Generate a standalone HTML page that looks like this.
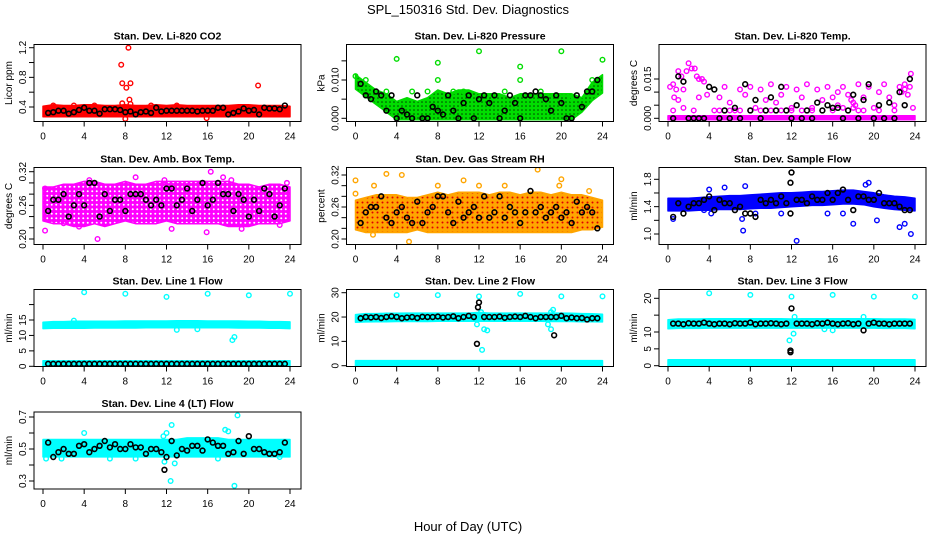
<!DOCTYPE html>
<html><head><meta charset="utf-8">
<style>
html,body{margin:0;padding:0;background:#fff;}
svg{display:block;font-family:"Liberation Sans",sans-serif;}
</style></head>
<body>
<svg id="chart" width="936" height="540" viewBox="0 0 936 540" xmlns="http://www.w3.org/2000/svg">
<defs>
<pattern id="dots-magenta" width="4.5" height="4.5" patternUnits="userSpaceOnUse"><rect width="4.5" height="4.5" fill="#ff00ff"/><circle cx="2.25" cy="2.25" r="1" fill="#ffffff"/></pattern>
<pattern id="dots-orange" width="5" height="5" patternUnits="userSpaceOnUse"><rect width="5" height="5" fill="#ffa500"/><circle cx="2.5" cy="2.5" r="1" fill="#e00000"/></pattern>
<pattern id="dots-green" width="4" height="4" patternUnits="userSpaceOnUse"><rect width="4" height="4" fill="#00dd00"/><circle cx="2" cy="2" r="0.8" fill="#004400"/></pattern>
</defs>
<text x="468" y="14" text-anchor="middle" font-size="13">SPL_150316  Std. Dev. Diagnostics</text>
<text x="468" y="531" text-anchor="middle" font-size="13">Hour of Day (UTC)</text>
</svg>
<script>
// ---------- data ----------
const hoursBand = [0,1,2,3,4,5,6,7,8,9,10,11,12,13,14,15,16,17,18,19,20,21,22,23,24];
const xTicks = [0,4,8,12,16,20,24];

const co2Lo = [0.29,0.29,0.29,0.29,0.29,0.29,0.29,0.29,0.29,0.29,0.29,0.29,0.29,0.29,0.29,0.29,0.29,0.29,0.29,0.29,0.29,0.29,0.29,0.29,0.29];
const co2Hi = [0.39,0.41,0.40,0.40,0.41,0.41,0.40,0.40,0.41,0.40,0.40,0.41,0.40,0.41,0.40,0.40,0.40,0.40,0.40,0.41,0.41,0.40,0.40,0.40,0.39];
const co2Pts = [[7.6,0.97],[8.3,1.2],[7.7,0.72],[8.5,0.72],[8.1,0.66],[8.4,0.5],[7.7,0.45],[8.5,0.44],[20.9,0.69],[8,0.24],[15.9,0.25],[1,0.42],[3,0.42],[5,0.42],[10.5,0.42],[13,0.42]];
const co2Blk = [0.32,0.33,0.35,0.35,0.31,0.33,0.36,0.39,0.35,0.35,0.31,0.37,0.37,0.37,0.36,0.33,0.34,0.30,0.33,0.34,0.32,0.39,0.34,0.35,0.35,0.35,0.35,0.35,0.35,0.34,0.35,0.35,0.35,0.39,0.39,0.30,0.32,0.34,0.38,0.35,0.36,0.30,0.39,0.38,0.38,0.37,0.42];

const presLo = [0.008,0.006,0.004,0.002,0.000,0.000,0.000,0.000,0.000,0.000,0.000,0.000,0.000,0.000,0.000,0.000,0.000,0.000,0.000,0.000,0.000,0.000,0.002,0.005,0.007];
const presHi = [0.011,0.009,0.007,0.006,0.004,0.005,0.004,0.005,0.007,0.006,0.007,0.007,0.006,0.006,0.006,0.005,0.006,0.006,0.006,0.006,0.006,0.006,0.005,0.009,0.011];
const presPts = [[4,0.0155],[8,0.0145],[8,0.010],[12,0.0175],[16,0.0135],[16,0.010],[20,0.0175],[24,0.0153],[0,0.011],[1,0.010],[3,0.007],[5.5,0.007],[7,0.007],[9.5,0.007],[10.5,0.007],[13,0.004],[14.5,0.007],[18,0.007],[21,0.005],[23,0.010]];
const presBlk = [0.009,0.006,0.005,0.007,0.006,0.002,0.006,0.000,0.002,0.001,0.000,0.006,0.000,0.000,0.003,0.002,0.001,0.006,0.002,0.000,0.004,0.006,0.000,0.005,0.006,0.004,0.006,0.000,0.002,0.006,0.004,0.000,0.006,0.006,0.007,0.006,0.005,0.002,0.006,0.004,0.000,0.000,0.006,0.003,0.007,0.007,0.010];

const tempLo = [0,0,0,0,0,0,0,0,0,0,0,0,0,0,0,0,0,0,0,0,0,0,0,0,0];
const tempHi = [0.0004,0.0004,0.0004,0.0004,0.0004,0.0004,0.0004,0.0004,0.0004,0.0004,0.0004,0.0004,0.0004,0.0004,0.0004,0.0004,0.0004,0.0004,0.0004,0.0004,0.0004,0.0004,0.0004,0.0004,0.0004];
const tempPts = [[0.2,0.012],[0.5,0.013],[0.6,0.008],[0.8,0.011],[1,0.018],[1.3,0.016],[1.5,0.011],[1.8,0.018],[2,0.021],[2.3,0.019],[2.6,0.019],[2.8,0.016],[3,0.015],[3.3,0.015],[3.5,0.014],[3.8,0.009],[0.5,0.003],[1,0.007],[1.5,0.004],[2.5,0.003],[3,0.008],[4.5,0.003],[5,0.008],[5.5,0.012],[6,0.006],[6.5,0.003],[7,0.011],[7.5,0.009],[8,0.012],[8.5,0.004],[9,0.011],[9.5,0.007],[10,0.013],[10.5,0.006],[11,0.009],[11.5,0.012],[12,0.004],[12.5,0.011],[13,0.008],[13.5,0.013],[14,0.004],[14.5,0.011],[15,0.007],[15.5,0.012],[16,0.008],[16.5,0.005],[17,0.012],[17.5,0.009],[18,0.006],[18.5,0.013],[19,0.008],[19.5,0.012],[20,0.004],[20.5,0.010],[21,0.013],[21.5,0.008],[22,0.005],[22.5,0.012],[23,0.013],[23.3,0.009],[23.6,0.017],[23.8,0.004],[17,0.004],[18,0.004],[19,0.003],[5,0.003],[6,0.003],[7,0.003],[8,0.003],[9,0.003],[10,0.003],[11,0.003],[12,0.003],[13,0.003],[14,0.003],[15,0.003],[16,0.003],[18.5,0.003],[20.5,0.003],[22,0.003],[23,0.011],[22.7,0.010],[23.5,0.012],[16.5,0.010],[17.8,0.007],[18.2,0.005]];
const tempBlk = [0,0.016,0.014,0,0,0,0,0.012,0.011,0,0.003,0,0.004,0,0.013,0.003,0.007,0,0.003,0.008,0.003,0.012,0.003,0,0.005,0,0.003,0,0.006,0.003,0.005,0.004,0.004,0,0.003,0.009,0,0.007,0.013,0,0.005,0,0.006,0,0.010,0.005,0.015];

const ambLo = [0.235,0.23,0.23,0.225,0.225,0.23,0.225,0.23,0.235,0.23,0.23,0.23,0.235,0.23,0.23,0.23,0.23,0.23,0.225,0.225,0.225,0.23,0.23,0.23,0.235];
const ambHi = [0.29,0.29,0.295,0.295,0.30,0.30,0.295,0.295,0.30,0.295,0.295,0.30,0.30,0.30,0.30,0.30,0.30,0.30,0.30,0.295,0.295,0.29,0.295,0.295,0.29];
const ambPts = [[0.2,0.29],[0.2,0.215],[5.3,0.20],[16.3,0.32],[15.9,0.212],[19.3,0.218],[12.5,0.218],[2,0.228],[3.5,0.222],[23,0.225],[4.5,0.305],[11.8,0.305],[17.5,0.31],[18.3,0.305],[23.7,0.30],[9,0.31]];
const ambBlk = [0.25,0.27,0.27,0.28,0.24,0.26,0.28,0.26,0.30,0.30,0.24,0.28,0.25,0.27,0.27,0.25,0.28,0.28,0.28,0.27,0.26,0.27,0.26,0.29,0.29,0.26,0.27,0.29,0.25,0.27,0.30,0.26,0.27,0.30,0.28,0.28,0.25,0.28,0.27,0.24,0.27,0.25,0.29,0.28,0.24,0.26,0.29];

const rhLo = [0.22,0.215,0.215,0.215,0.215,0.215,0.22,0.215,0.215,0.215,0.215,0.215,0.215,0.215,0.215,0.215,0.215,0.215,0.215,0.215,0.215,0.215,0.22,0.22,0.225];
const rhHi = [0.27,0.275,0.28,0.28,0.28,0.275,0.275,0.28,0.285,0.28,0.285,0.285,0.285,0.28,0.285,0.285,0.28,0.285,0.285,0.28,0.285,0.28,0.28,0.275,0.27];
const rhPts = [[0,0.31],[0,0.285],[3,0.322],[4.5,0.32],[17.7,0.33],[5.2,0.195],[1.7,0.208],[10.5,0.31],[20,0.312],[1.8,0.30],[12,0.30],[14.5,0.30],[19.8,0.30],[8,0.30],[22.7,0.29]];
const rhBlk = [0.23,0.25,0.26,0.26,0.28,0.24,0.23,0.25,0.26,0.24,0.23,0.27,0.23,0.25,0.26,0.28,0.28,0.25,0.23,0.27,0.24,0.25,0.26,0.24,0.28,0.24,0.25,0.28,0.24,0.26,0.25,0.23,0.25,0.29,0.25,0.26,0.24,0.25,0.26,0.24,0.25,0.23,0.27,0.25,0.26,0.25,0.22];

const flowLo = [1.36,1.36,1.36,1.37,1.37,1.38,1.38,1.38,1.39,1.40,1.40,1.41,1.42,1.43,1.44,1.44,1.45,1.46,1.46,1.45,1.42,1.40,1.38,1.37,1.36];
const flowHi = [1.50,1.50,1.50,1.51,1.52,1.53,1.54,1.54,1.55,1.56,1.57,1.58,1.58,1.59,1.60,1.60,1.61,1.62,1.62,1.60,1.58,1.55,1.53,1.52,1.50];
const flowPts = [[7.3,1.05],[12.5,0.9],[7.5,1.7],[19.5,1.75],[19.2,1.72],[23.6,1.0],[0.5,1.22],[4,1.65],[5.5,1.68],[18,1.15],[23,1.15],[22.5,1.1],[20.3,1.2],[7.2,1.22],[4.2,1.3],[3.5,1.35],[17,1.3],[15.5,1.3],[11,1.3],[8.5,1.3]];
const flowBlk = [1.25,1.45,1.3,1.4,1.45,1.45,1.5,1.55,1.35,1.5,1.45,1.45,1.35,1.4,1.3,1.3,1.25,1.5,1.45,1.5,1.45,1.55,1.45,1.9,1.5,1.5,1.45,1.55,1.5,1.5,1.6,1.5,1.6,1.65,1.5,1.35,1.55,1.55,1.5,1.5,1.6,1.45,1.45,1.45,1.4,1.35,1.35];
const flowBlkX = [[11.9,1.75],[11.9,1.3]];

const l1Lo = [12.7,12.8,12.8,12.8,12.8,12.9,12.9,12.9,12.9,12.9,13.0,13.0,13.0,13.0,13.0,13.0,13.0,13.0,13.0,12.9,12.9,12.9,12.8,12.8,12.7];
const l1Hi = [13.8,14.0,14.0,14.1,14.1,14.1,14.1,14.1,14.2,14.2,14.2,14.2,14.2,14.3,14.3,14.3,14.2,14.2,14.2,14.2,14.1,14.1,14.0,14.0,13.9];
const l1ZLo = [0.1,0.1,0.1,0.1,0.1,0.1,0.1,0.1,0.1,0.1,0.1,0.1,0.1,0.1,0.1,0.1,0.1,0.1,0.1,0.1,0.1,0.1,0.1,0.1,0.1];
const l1ZHi = [1.3,1.3,1.3,1.3,1.3,1.3,1.3,1.3,1.3,1.3,1.3,1.3,1.3,1.3,1.3,1.3,1.3,1.3,1.3,1.3,1.3,1.3,1.3,1.3,1.3];
const l1Pts = [[4,24],[8,23.5],[12,22.5],[16,23.5],[20,23],[24,23.5],[18.4,8.5],[18.6,9.5],[3,14.8],[13,11.8],[15,12]];
const l1Blk = [0.8,0.8,0.8,0.8,0.8,0.8,0.8,0.8,0.8,0.8,0.8,0.8,0.8,0.8,0.8,0.8,0.8,0.8,0.8,0.8,0.8,0.8,0.8,0.8,0.8,0.8,0.8,0.8,0.8,0.8,0.8,0.8,0.8,0.8,0.8,0.8,0.8,0.8,0.8,0.8,0.8,0.8,0.8,0.8,0.8,0.8,0.8];

const l2Lo = [18.5,18.6,18.7,18.7,18.8,18.8,18.8,18.8,18.9,18.9,18.9,18.9,18.9,18.9,18.9,18.9,18.9,18.9,18.9,18.8,18.8,18.8,18.7,18.7,18.6];
const l2Hi = [20.4,20.8,20.8,20.9,20.9,21.0,21.0,21.0,21.0,21.0,21.0,21.0,21.3,21.0,21.0,21.0,21.0,21.0,21.0,21.0,21.0,20.9,20.8,20.7,20.5];
const l2ZLo = [0.1,0.1,0.1,0.1,0.1,0.1,0.1,0.1,0.1,0.1,0.1,0.1,0.1,0.1,0.1,0.1,0.1,0.1,0.1,0.1,0.1,0.1,0.1,0.1,0.1];
const l2ZHi = [1.5,1.5,1.5,1.5,1.5,1.5,1.5,1.5,1.5,1.5,1.5,1.5,1.5,1.5,1.5,1.5,1.5,1.5,1.5,1.5,1.5,1.5,1.5,1.5,1.5];
const l2Pts = [[4,29],[8,29],[12,28.5],[16,29.5],[20,28.5],[24,28.5],[12.3,6.5],[11.8,17],[12.5,15],[12.8,14.5],[19,15],[19,22],[18.7,17],[19.2,23],[12.2,22]];
const l2Blk = [19.5,20,19.8,20,19.6,20,20.3,20,19.5,19.8,20,19.6,20.1,20,20,20.2,19.8,20,20.3,19.5,20,20.5,20,26,20,20,20,20.2,19.7,20,20.2,20,20.5,20,19.5,20,20,20,20,20.5,19.5,19.8,19.5,19.6,19,19.5,19.5];
const l2BlkX = [[11.9,24],[11.8,9],[19.3,12.5]];

const l3Lo = [11.4,11.5,11.5,11.5,11.6,11.6,11.6,11.6,11.6,11.6,11.6,11.6,11.6,11.6,11.6,11.6,11.6,11.6,11.6,11.6,11.6,11.5,11.5,11.5,11.4];
const l3Hi = [13.2,13.4,13.4,13.4,13.5,13.5,13.5,13.5,13.5,13.5,13.5,13.5,13.4,13.5,13.5,13.5,13.5,13.5,13.5,13.5,13.5,13.4,13.4,13.4,13.3];
const l3ZLo = [0.1,0.1,0.1,0.1,0.1,0.1,0.1,0.1,0.1,0.1,0.1,0.1,0.1,0.1,0.1,0.1,0.1,0.1,0.1,0.1,0.1,0.1,0.1,0.1,0.1];
const l3ZHi = [1.3,1.3,1.3,1.3,1.3,1.3,1.3,1.3,1.3,1.3,1.3,1.3,1.3,1.3,1.3,1.3,1.3,1.3,1.3,1.3,1.3,1.3,1.3,1.3,1.3];
const l3Pts = [[4,21.5],[8,21],[12,20.5],[16,21],[20,20.5],[24,20.5],[11.8,7.5],[12.2,9.5],[12.3,14.5],[19,14.5],[15.2,10.8],[16,10.5]];
const l3Blk = [12.5,12.5,12.3,12.6,12.5,12.5,12.8,12.5,12.3,12.5,12.5,12.3,12.6,12.5,12.5,12.8,12.3,12.5,12.5,12.6,12.5,12.3,12.5,17,12.5,12.5,12.5,12.3,12.6,12.5,12.8,12.5,12.3,12.5,12.6,12.3,12.5,10.5,12.5,12.8,12.5,12.5,12.3,12.5,12.5,12.5,12.5];
const l3BlkX = [[11.9,4.5],[11.9,4]];

const l4Lo = [0.46,0.46,0.46,0.46,0.46,0.46,0.46,0.46,0.46,0.46,0.46,0.46,0.46,0.46,0.46,0.46,0.46,0.46,0.46,0.46,0.46,0.46,0.46,0.46,0.46];
const l4Hi = [0.55,0.55,0.55,0.55,0.55,0.55,0.55,0.55,0.55,0.55,0.55,0.55,0.55,0.55,0.56,0.56,0.56,0.56,0.55,0.55,0.55,0.55,0.55,0.55,0.55];
const l4Pts = [[4,0.6],[12.4,0.3],[12.5,0.65],[18.6,0.27],[18.9,0.71],[17.7,0.62],[18,0.61],[12,0.6],[11.8,0.42],[12.8,0.41],[11.7,0.58],[0.3,0.44],[1.8,0.44],[6.5,0.44],[9,0.44],[17,0.44],[23,0.45]];
const l4Blk = [0.54,0.45,0.48,0.5,0.47,0.47,0.52,0.53,0.48,0.5,0.52,0.55,0.51,0.53,0.5,0.5,0.53,0.51,0.51,0.47,0.5,0.5,0.48,0.45,0.55,0.46,0.5,0.49,0.52,0.52,0.49,0.56,0.54,0.52,0.52,0.47,0.48,0.55,0.47,0.58,0.5,0.5,0.48,0.47,0.47,0.48,0.54];
const l4BlkX = [[11.8,0.37]];

// ---------- layout ----------
const NS = 'http://www.w3.org/2000/svg';
const svg = document.getElementById('chart');
const colX0 = [43, 355.5, 668];
const rowB = [121.5, 244.5, 366.5, 489];
const PW = 247;

function mk(tag, attrs, parent) {
  const e = document.createElementNS(NS, tag);
  for (const k in attrs) e.setAttribute(k, attrs[k]);
  (parent || svg).appendChild(e);
  return e;
}

const panels = [
  {id:'co2', title:'Stan. Dev. Li-820 CO2', ylab:'Licor ppm', col:0,row:0, t:[0.4,107,1.2,47.7], ticks:[0.4,0.6,0.8,1.0,1.2], labels:['0.4','0.8','1.2'], color:'#ff0000', fill:'#ff0000', bands:[[co2Lo,co2Hi]], pts:co2Pts, blk:co2Blk, blkX:[]},
  {id:'pressure', title:'Stan. Dev. Li-820 Pressure', ylab:'kPa', col:1,row:0, t:[0,118.3,0.010,80], ticks:[0,0.005,0.010,0.015], labels:['0.000','0.010'], color:'#00dd00', fill:'url(#dots-green)', bands:[[presLo,presHi]], pts:presPts, blk:presBlk, blkX:[]},
  {id:'temp', title:'Stan. Dev. Li-820 Temp.', ylab:'degrees C', col:2,row:0, t:[0,118.3,0.015,79], ticks:[0,0.005,0.010,0.015], labels:['0.000','0.015'], color:'#ff00ff', fill:'#ff00ff', bands:[[tempLo,tempHi]], pts:tempPts, blk:tempBlk, blkX:[]},
  {id:'amb-box-temp', title:'Stan. Dev. Amb. Box Temp.', ylab:'degrees C', col:0,row:1, t:[0.20,239,0.32,171.7], ticks:[0.20,0.22,0.24,0.26,0.28,0.30,0.32], labels:['0.20','0.26','0.32'], color:'#ff00ff', fill:'url(#dots-magenta)', bands:[[ambLo,ambHi]], pts:ambPts, blk:ambBlk, blkX:[]},
  {id:'gas-rh', title:'Stan. Dev. Gas Stream RH', ylab:'percent', col:1,row:1, t:[0.20,239,0.32,175], ticks:[0.20,0.22,0.24,0.26,0.28,0.30,0.32], labels:['0.20','0.26','0.32'], color:'#ffa500', fill:'url(#dots-orange)', bands:[[rhLo,rhHi]], pts:rhPts, blk:rhBlk, blkX:[]},
  {id:'sample-flow', title:'Stan. Dev. Sample Flow', ylab:'ml/min', col:2,row:1, t:[1.0,234,1.8,179.3], ticks:[1.0,1.2,1.4,1.6,1.8], labels:['1.0','1.4','1.8'], color:'#0000ff', fill:'#0000ff', bands:[[flowLo,flowHi]], pts:flowPts, blk:flowBlk, blkX:flowBlkX},
  {id:'line1-flow', title:'Stan. Dev. Line 1 Flow', ylab:'ml/min', col:0,row:2, t:[0,366.3,15,320], ticks:[0,5,10,15,20], labels:['0','5','10','15'], color:'#00ffff', fill:'#00ffff', bands:[[l1Lo,l1Hi],[l1ZLo,l1ZHi]], pts:l1Pts, blk:l1Blk, blkX:[]},
  {id:'line2-flow', title:'Stan. Dev. Line 2 Flow', ylab:'ml/min', col:1,row:2, t:[0,365.7,30,292.7], ticks:[0,10,20,30], labels:['0','10','20','30'], color:'#00ffff', fill:'#00ffff', bands:[[l2Lo,l2Hi],[l2ZLo,l2ZHi]], pts:l2Pts, blk:l2Blk, blkX:l2BlkX},
  {id:'line3-flow', title:'Stan. Dev. Line 3 Flow', ylab:'ml/min', col:2,row:2, t:[0,365.7,20,298.3], ticks:[0,5,10,15,20], labels:['0','5','10','20'], color:'#00ffff', fill:'#00ffff', bands:[[l3Lo,l3Hi],[l3ZLo,l3ZHi]], pts:l3Pts, blk:l3Blk, blkX:l3BlkX},
  {id:'line4-flow', title:'Stan. Dev. Line 4 (LT) Flow', ylab:'ml/min', col:0,row:3, t:[0.3,481,0.7,417], ticks:[0.3,0.4,0.5,0.6,0.7], labels:['0.3','0.5','0.7'], color:'#00ffff', fill:'#00ffff', bands:[[l4Lo,l4Hi]], pts:l4Pts, blk:l4Blk, blkX:l4BlkX}
];

panels.forEach((p, pi) => {
  const x0 = colX0[p.col];
  const B = rowB[p.row];
  const T = B - 77;
  const L = x0 - 9, R = x0 + PW + 11;
  const xs = h => x0 + h / 24 * PW;
  const ys = v => p.t[1] + (v - p.t[0]) * (p.t[3] - p.t[1]) / (p.t[2] - p.t[0]);

  const g = mk('g', {});
  
  

  const clip = mk('clipPath', {id: 'clip' + pi}, g);
  mk('rect', {x: L, y: T, width: R - L, height: B - T}, clip);
  const plot = mk('g', {'clip-path': 'url(#clip' + pi + ')'}, g);
  
  

  p.bands.forEach(b => {
    const lo = b[0], hi = b[1];
    let d = '';
    hoursBand.forEach((h, i) => { d += (i ? 'L' : 'M') + xs(h).toFixed(1) + ' ' + (ys(hi[i]) - 1.5).toFixed(1); });
    for (let i = hoursBand.length - 1; i >= 0; i--) d += 'L' + xs(hoursBand[i]).toFixed(1) + ' ' + (ys(lo[i]) + 1.5).toFixed(1);
    const band = mk('path', {d: d + 'Z', fill: p.fill, stroke: p.color, 'stroke-width': 1.5, 'stroke-linejoin': 'round'}, plot);
    
    
  });

  p.pts.forEach(pt => {
    const c = mk('circle', {cx: xs(pt[0]), cy: ys(pt[1]), r: 2.3, fill: 'none', stroke: p.color, 'stroke-width': 1.4}, plot);
    
    
  });

  p.blk.forEach((v, i) => {
    const c = mk('circle', {cx: xs(0.5 + i * 0.5), cy: ys(v), r: 2.4, fill: 'none', stroke: '#000', 'stroke-width': 1.6}, plot);
    
    
  });
  p.blkX.forEach(pt => {
    const c = mk('circle', {cx: xs(pt[0]), cy: ys(pt[1]), r: 2.4, fill: 'none', stroke: '#000', 'stroke-width': 1.6}, plot);
    
    
  });

  const box = mk('rect', {x: L, y: T, width: R - L, height: B - T, fill: 'none', stroke: '#000', 'stroke-width': 1}, g);
  
  

  const xa = mk('g', {}, g);
  
  
  mk('line', {x1: xs(0), x2: xs(24), y1: B, y2: B, stroke: '#000'}, xa);
  xTicks.forEach(h => {
    mk('line', {x1: xs(h), x2: xs(h), y1: B, y2: B + 5, stroke: '#000'}, xa);
    const t = mk('text', {x: xs(h), y: B + 18, 'text-anchor': 'middle', 'font-size': 10}, xa);
    t.textContent = h;
    
    
  });

  const ya = mk('g', {}, g);
  
  
  const yt0 = ys(p.ticks[0]), yt1 = ys(p.ticks[p.ticks.length - 1]);
  mk('line', {x1: L, x2: L, y1: yt0, y2: yt1, stroke: '#000'}, ya);
  p.ticks.forEach(v => mk('line', {x1: L - 5, x2: L, y1: ys(v), y2: ys(v), stroke: '#000'}, ya));
  p.labels.forEach(s => {
    const yy = ys(parseFloat(s));
    const t = mk('text', {x: L - 8, y: yy, 'text-anchor': 'middle', 'font-size': 10, transform: 'rotate(-90 ' + (L - 8) + ' ' + yy + ')'}, ya);
    t.textContent = s;
    
    
  });
  const ym = (T + B) / 2;
  const yl = mk('text', {x: L - 22, y: ym, 'text-anchor': 'middle', 'font-size': 10, transform: 'rotate(-90 ' + (L - 22) + ' ' + ym + ')'}, g);
  yl.textContent = p.ylab;
  
  

  const tt = mk('text', {x: (L + R) / 2, y: T - 5, 'text-anchor': 'middle', 'font-size': 10.5, 'font-weight': 'bold'}, g);
  tt.textContent = p.title;
  
  
});
</script>
</body></html>
